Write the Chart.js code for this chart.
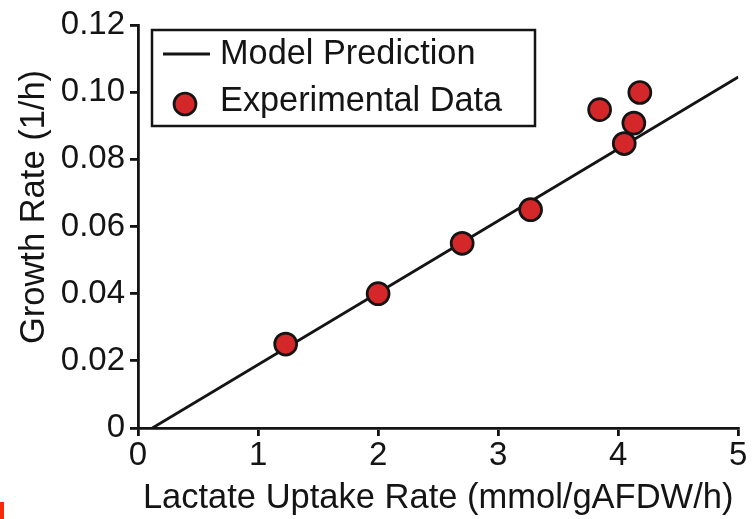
<!DOCTYPE html>
<html>
<head>
<meta charset="utf-8">
<script src="https://cdn.jsdelivr.net/npm/chart.js@4.4.1/dist/chart.umd.min.js"></script>
<style>
  body { margin: 0; background: #fff; }
  #wrap { position: relative; width: 752px; height: 519px; }
  #mark { position: absolute; left: 0; top: 502px; width: 4px; height: 17px; background: #f52a0a; }
</style>
</head>
<body>
<div id="wrap">
  <canvas id="myChart" width="752" height="519"></canvas>
  <div id="mark"></div>
</div>
<script>
// experimental points
var expX = [1.23, 2.0, 2.7, 3.27, 3.845, 4.05, 4.13, 4.18];
var expY = [0.025, 0.040, 0.055, 0.065, 0.0948, 0.0847, 0.0908, 0.0999];
// model line end points
var modelX = [0.12, 5.0];
var modelY = [0, 0.1045];

var xTicks = [0, 1, 2, 3, 4, 5];
var xTickLabels = ["0", "1", "2", "3", "4", "5"];
var yTicks = [0, 0.02, 0.04, 0.06, 0.08, 0.10, 0.12];
var yTickLabels = ["0", "0.02", "0.04", "0.06", "0.08", "0.10", "0.12"];

var ink = "#141414";
var dotRed = "#d3272a";
var fontFam = "'Liberation Sans', Arial, Helvetica, sans-serif";

function toPoints(xs, ys) {
	return xs.map(function (x, i) { return { x: x, y: ys[i] }; });
}

// y title drawn by hand, it sits a bit above the axis middle
var yTitle = {
	id: "yTitle",
	afterDraw: function (chart) {
		var t = chart.options.scales.y.title;
		var ctx = chart.ctx;
		ctx.save();
		ctx.translate(34, 207);
		ctx.rotate(-Math.PI / 2);
		ctx.font = "34.5px " + fontFam;
		ctx.fillStyle = ink;
		ctx.textAlign = "center";
		ctx.textBaseline = "middle";
		ctx.fillText(t.text, 0, 0);
		ctx.restore();
	}
};

// boxed legend in the top left corner of the plot
var boxLegend = {
	id: "boxLegend",
	afterDraw: function (chart) {
		var ctx = chart.ctx;
		var a = chart.chartArea;
		var x0 = a.left + 14, y0 = a.top + 5;
		var line = chart.data.datasets[1];
		var dots = chart.data.datasets[0];
		ctx.save();
		ctx.lineWidth = 2.5;
		ctx.strokeStyle = ink;
		ctx.strokeRect(x0, y0, 383, 96);

		ctx.beginPath();
		ctx.moveTo(x0 + 11, y0 + 24);
		ctx.lineTo(x0 + 58, y0 + 24);
		ctx.strokeStyle = line.borderColor;
		ctx.lineWidth = line.borderWidth;
		ctx.stroke();

		ctx.beginPath();
		ctx.arc(x0 + 33, y0 + 74, dots.pointRadius, 0, Math.PI * 2);
		ctx.fillStyle = dots.pointBackgroundColor;
		ctx.fill();
		ctx.lineWidth = dots.pointBorderWidth;
		ctx.strokeStyle = dots.pointBorderColor;
		ctx.stroke();

		ctx.font = "34.3px " + fontFam;
		ctx.fillStyle = ink;
		ctx.textAlign = "left";
		ctx.textBaseline = "middle";
		ctx.fillText(line.label, x0 + 68, y0 + 25);
		ctx.fillText(dots.label, x0 + 68, y0 + 72);
		ctx.restore();
	}
};

new Chart("myChart", {
	type: "scatter",
	data: {
		datasets: [
			{
				label: "Experimental Data",
				data: toPoints(expX, expY),
				pointRadius: 11,
				pointHoverRadius: 11,
				pointBackgroundColor: dotRed,
				pointBorderColor: ink,
				pointBorderWidth: 2.7,
				order: 1
			},
			{
				type: "line",
				label: "Model Prediction",
				data: toPoints(modelX, modelY),
				borderColor: ink,
				borderWidth: 2.8,
				pointRadius: 0,
				fill: false,
				order: 2
			}
		]
	},
	plugins: [yTitle, boxLegend],
	options: {
		responsive: false,
		animation: false,
		devicePixelRatio: 1,
		layout: { padding: { top: 25, right: 10, left: 0, bottom: 0 } },
		plugins: {
			legend: { display: false },
			tooltip: { enabled: false }
		},
		scales: {
			x: {
				type: "linear",
				min: 0,
				max: 5,
				afterBuildTicks: function (s) {
					s.ticks = xTicks.map(function (v) { return { value: v }; });
				},
				afterFit: function (s) { s.height = 91; },
				ticks: {
					color: ink,
					font: { family: fontFam, size: 33 },
					padding: 0,
					maxRotation: 0,
					callback: function (v, i) { return xTickLabels[i]; }
				},
				grid: { drawOnChartArea: false, drawTicks: true, tickLength: 8, color: ink, lineWidth: 2.8 },
				border: { display: true, color: ink, width: 2.8 },
				title: {
					display: true,
					text: "Lactate Uptake Rate (mmol/gAFDW/h)",
					color: ink,
					font: { family: fontFam, size: 34.5 },
					padding: { top: 0, bottom: 0 }
				}
			},
			y: {
				type: "linear",
				min: 0,
				max: 0.12,
				afterBuildTicks: function (s) {
					s.ticks = yTicks.map(function (v) { return { value: v }; });
				},
				afterFit: function (s) { s.width = 138; },
				ticks: {
					color: ink,
					font: { family: fontFam, size: 33 },
					padding: 5,
					callback: function (v, i) { return yTickLabels[i]; }
				},
				grid: { drawOnChartArea: false, drawTicks: true, tickLength: 8, color: ink, lineWidth: 2.8 },
				border: { display: true, color: ink, width: 2.8 },
				title: {
					display: false,
					text: "Growth Rate (1/h)"
				}
			}
		}
	}
});
</script>
</body>
</html>
